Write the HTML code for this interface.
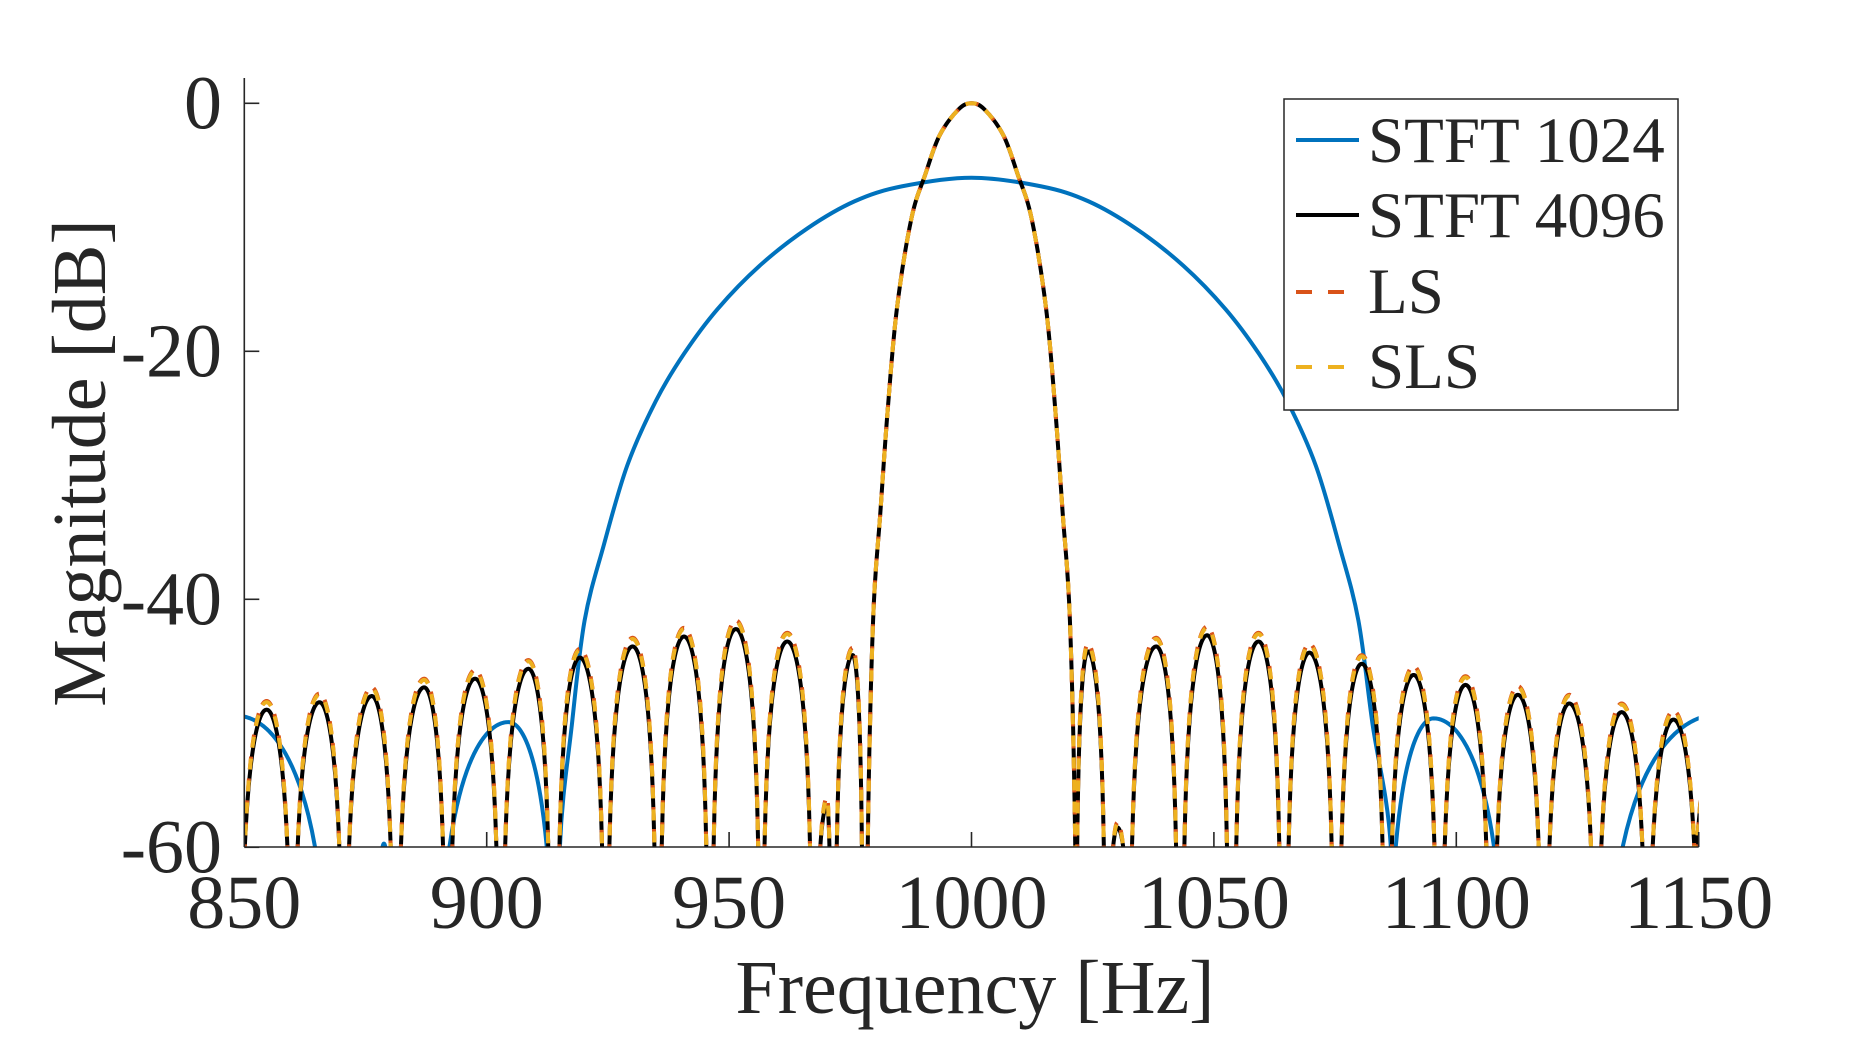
<!DOCTYPE html>
<html><head><meta charset="utf-8"><style>
html,body{margin:0;padding:0;background:#fff;}
svg{display:block;}
text{font-family:"Liberation Serif",serif;fill:#262626;}
</style></head><body>
<svg id="chart" width="1875" height="1042" viewBox="0 0 1875 1042" xmlns="http://www.w3.org/2000/svg">
<defs><clipPath id="plotclip"><rect x="244.3" y="60" width="1454.4" height="787"/></clipPath></defs>
<rect width="1875" height="1042" fill="#fff"/>
<g id="series" clip-path="url(#plotclip)"></g>
<g id="axes"></g>
<text x="80" y="463" font-size="76" text-anchor="middle" dominant-baseline="central" transform="rotate(-90 80 463)">Magnitude [dB]</text>
<text x="975" y="1013" font-size="76" text-anchor="middle">Frequency [Hz]</text>
<g>
<rect x="1284" y="99" width="394" height="311" fill="#fff" stroke="#262626" stroke-width="1.5"/>
<g><line x1="1296" y1="140" x2="1359" y2="140" stroke="#0072BD" stroke-width="4"/><text x="1368" y="162" font-size="65" fill="#000">STFT 1024</text></g>
<g><line x1="1296" y1="215" x2="1359" y2="215" stroke="#000" stroke-width="4"/><text x="1368" y="237" font-size="65" fill="#000">STFT 4096</text></g>
<g><line x1="1296" y1="292" x2="1344" y2="292" stroke="#D95319" stroke-width="4" stroke-dasharray="16 16"/><text x="1368" y="313" font-size="65" fill="#000">LS</text></g>
<g><line x1="1296" y1="367" x2="1344" y2="367" stroke="#EDB120" stroke-width="4" stroke-dasharray="16 16"/><text x="1368" y="388" font-size="65" fill="#000">SLS</text></g>
</g>
</svg>
<script>
// ---- data ----
const xTicks = [850, 900, 950, 1000, 1050, 1100, 1150];
const yTicks = [0, -20, -40, -60];
// STFT 4096 sidelobes: -60 dB crossing start, peak freq, peak dB, -60 dB crossing end
const lobeStart = [850.1,861,871.6,882.3,892.9,903.8,915,925.3,936.1,946.8,957.3,968.8,972.2,1021.8,1029.2,1033.1,1043.9,1054.6,1065.4,1076.3,1086.7,1097.6,1108.4,1119.2,1129.9,1140.5,1149.6];
const lobePeakF = [854.6,865.5,876.3,887.1,897.6,908.6,919.2,930.1,940.7,951.4,962,970.2,975.5,1024,1030.1,1038.1,1048.6,1059.2,1069.7,1080.5,1091.2,1101.9,1112.7,1123.3,1134.1,1144.8,1155];
const lobeEnd = [858.9,869.6,880.2,891,902,912.7,923.8,934.6,945.3,956,966.7,970.7,977.4,1027.3,1031.3,1042.2,1052.7,1063.5,1074.3,1084.8,1095.5,1106.2,1117,1127.8,1138.4,1149.1,1160];
const stft4096PeakDb = [-48.9,-48.3,-47.8,-47.1,-46.4,-45.6,-44.7,-43.8,-43.0,-42.4,-43.4,-56.6,-44.5,-44.2,-58.4,-43.8,-42.9,-43.4,-44.3,-45.2,-46.1,-46.9,-47.7,-48.4,-49.1,-49.7,-50.3];
const lsPeakDb = [-48.2,-47.6,-47.1,-46.4,-45.7,-44.9,-44.0,-43.1,-42.3,-41.7,-42.7,-56.0,-43.9,-43.6,-58.0,-43.1,-42.2,-42.7,-43.6,-44.5,-45.4,-46.2,-47.0,-47.7,-48.4,-49.0,-49.7];
const slsPeakDb = [-48.3,-47.7,-47.2,-46.5,-45.8,-45.0,-44.1,-43.2,-42.4,-41.8,-42.8,-56.1,-44.0,-43.7,-58.1,-43.2,-42.3,-42.8,-43.7,-44.6,-45.5,-46.3,-47.1,-47.8,-48.5,-49.1,-49.8];
// STFT 4096 main lobe
const mainF = [978.6,979.7,981.2,982.7,984.6,987.6,990.5,993.4,997.3,1000,1002.7,1006.6,1009.5,1012.4,1015.4,1017.3,1018.8,1020.3,1021.4];
const mainDb = [-60,-41.7,-33.0,-24.8,-16.6,-9.3,-5.7,-2.6,-0.5,0,-0.5,-2.6,-5.7,-9.3,-16.6,-24.8,-33.0,-41.7,-60];
// STFT 1024 main lobe
const blueMainF = [915.1,917.6,920.2,924.1,929.0,934.9,940.7,947.6,956.3,966.1,975.9,985.6,1000,1014.4,1024.1,1033.9,1043.7,1052.4,1059.3,1065.1,1071.0,1075.9,1079.8,1082.7,1086.5];
const blueMainDb = [-60,-50,-41.7,-35.7,-29.2,-24.0,-20.2,-16.6,-13.1,-10.1,-7.9,-6.7,-6.0,-6.7,-7.9,-10.1,-13.1,-16.6,-20.2,-24.0,-29.2,-35.7,-41.7,-50,-60];
// STFT 1024 sidelobes
const blueLobeStart = [836,878.5,892.3,1087.5,1134.3];
const blueLobePeakF = [848.5,878.8,904.5,1095.3,1154];
const blueLobePeakDb = [-49.4,-59.7,-49.9,-49.6,-49.3];
const blueLobeEnd = [864.6,879.1,912.4,1107.8,1170];

// ---- scales ----
const X0=244.3, PXPERHZ=4.848, Y0=103.3, PXPERDB=12.4;
const xs = f => X0 + (f-850)*PXPERHZ;
const ys = d => Y0 - d*PXPERDB;
const NS='http://www.w3.org/2000/svg';

function lobePts(s,pf,pd,e){
  const A = pd+60, v0 = Math.asin(Math.pow(10,-A/20))/Math.PI, N=24, pts=[[s-0.02,-75]];
  for(let i=0;i<=N;i++){const u=i/N, v=v0+(0.5-v0)*u; pts.push([s+(pf-s)*u, pd+20*Math.log10(Math.sin(Math.PI*v))]);}
  for(let i=N-1;i>=0;i--){const u=i/N, v=v0+(0.5-v0)*u; pts.push([e-(e-pf)*u, pd+20*Math.log10(Math.sin(Math.PI*v))]);}
  pts.push([e+0.02,-75]);
  return pts;
}
function polyD(pts){return 'M'+pts.map(p=>xs(p[0]).toFixed(2)+','+ys(p[1]).toFixed(2)).join('L');}
function smoothD(F,D){
  const p=[[F[0]-0.01,-75]].concat(F.map((f,i)=>[f,D[i]])).concat([[F[F.length-1]+0.01,-75]]).map(q=>[xs(q[0]),ys(q[1])]);
  let d='M'+p[0][0].toFixed(2)+','+p[0][1].toFixed(2);
  for(let i=0;i<p.length-1;i++){
    const a=p[Math.max(i-1,0)],b=p[i],c=p[i+1],e=p[Math.min(i+2,p.length-1)];
    const c1=[b[0]+(c[0]-a[0])/6,b[1]+(c[1]-a[1])/6], c2=[c[0]-(e[0]-b[0])/6,c[1]-(e[1]-b[1])/6];
    d+='C'+c1.map(v=>v.toFixed(2)).join(',')+' '+c2.map(v=>v.toFixed(2)).join(',')+' '+c[0].toFixed(2)+','+c[1].toFixed(2);
  }
  return d;
}
function seriesD(peaks){
  let d=smoothD(mainF,mainDb);
  for(let i=0;i<lobeStart.length;i++) d+=polyD(lobePts(lobeStart[i],lobePeakF[i],peaks[i],lobeEnd[i]));
  return d;
}
function addPath(parent,d,stroke,dash,name){
  const el=document.createElementNS(NS,'path');
  el.setAttribute('d',d);el.setAttribute('fill','none');el.setAttribute('stroke',stroke);
  el.setAttribute('stroke-width','4');el.setAttribute('stroke-linejoin','round');
  if(dash) el.setAttribute('stroke-dasharray',dash);
  
  
  parent.appendChild(el);
}
const sg=document.getElementById('series');
let blueD=smoothD(blueMainF,blueMainDb);
for(let i=0;i<blueLobeStart.length;i++) blueD+=polyD(lobePts(blueLobeStart[i],blueLobePeakF[i],blueLobePeakDb[i],blueLobeEnd[i]));
addPath(sg,blueD,'#0072BD',null,'line-stft-1024');
addPath(sg,seriesD(stft4096PeakDb),'#000',null,'line-stft-4096');
addPath(sg,seriesD(lsPeakDb),'#D95319','13 9','line-ls');
addPath(sg,seriesD(slsPeakDb),'#EDB120','11 11','line-sls');

// ---- axes ----
const ag=document.getElementById('axes');
function addLine(x1,y1,x2,y2,name){
  const l=document.createElementNS(NS,'line');
  l.setAttribute('x1',x1);l.setAttribute('y1',y1);l.setAttribute('x2',x2);l.setAttribute('y2',y2);
  l.setAttribute('stroke','#262626');l.setAttribute('stroke-width','1.6');
  
  
  ag.appendChild(l);
}
function addText(x,y,s,anchor,name){
  const t=document.createElementNS(NS,'text');
  t.setAttribute('x',x);t.setAttribute('y',y);t.setAttribute('font-size','76');t.setAttribute('text-anchor',anchor);
  t.textContent=s;
  
  
  ag.appendChild(t);
}
addLine(X0,78,X0,847,'y-axis-line');
addLine(X0,847,xs(1150),847,'x-axis-line');
xTicks.forEach(v=>{addLine(xs(v),847,xs(v),832,'x-tick');addText(xs(v),928,String(v),'middle','x-tick-label');});
yTicks.forEach(v=>{addLine(X0,ys(v),X0+15,ys(v),'y-tick');addText(222,ys(v)+25,String(v),'end','y-tick-label');});
</script>
</body></html>
